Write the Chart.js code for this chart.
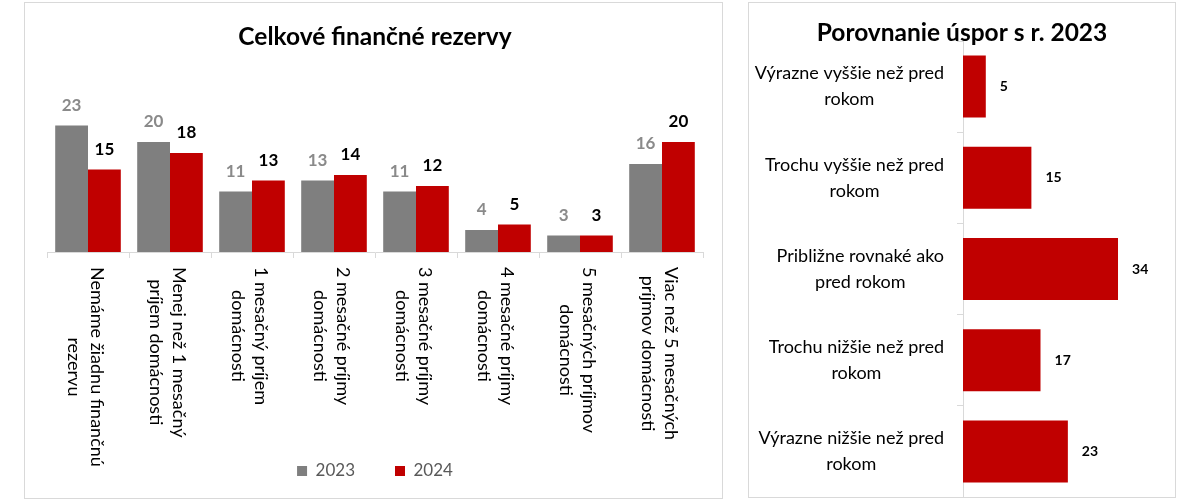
<!DOCTYPE html>
<html>
<head>
<meta charset="utf-8">
<title>Finančné rezervy</title>
<script src="https://cdn.jsdelivr.net/npm/chart.js@4.4.0/dist/chart.umd.min.js"></script>
<style>
  html, body { margin: 0; padding: 0; background: #fff; }
  body { width: 1200px; height: 500px; position: relative; overflow: hidden; }
  .panel { position: absolute; border: 1px solid #d9d9d9; box-sizing: border-box; }
  #left { left: 24px; top: 2px; width: 699px; height: 497px; }
  #right { left: 748px; top: 2px; width: 428px; height: 496px; }
  canvas { display: block; }
</style>
</head>
<body>
<div class="panel" id="left"><canvas id="reserves" width="697" height="495"></canvas></div>
<div class="panel" id="right"><canvas id="savings" width="426" height="494"></canvas></div>
<script>
// left chart data
const reserveCategories = [
    ["Nemáme žiadnu finančnú", "rezervu"],
    ["Menej než 1 mesačný", "príjem domácnosti"],
    ["1 mesačný príjem", "domácnosti"],
    ["2 mesačné príjmy", "domácnosti"],
    ["3 mesačné príjmy", "domácnosti"],
    ["4 mesačné príjmy", "domácnosti"],
    ["5 mesačných príjmov", "domácnosti"],
    ["Viac než 5 mesačných", "príjmov domácnosti"],
];
const reserves2023 = [23, 20, 11, 13, 11, 4, 3, 16];
const reserves2024 = [15, 18, 13, 14, 12, 5, 3, 20];

// right chart data
const savingsCategories = [
    ["Výrazne vyššie než pred", "rokom"],
    ["Trochu vyššie než pred", "rokom"],
    ["Približne rovnaké ako", "pred rokom"],
    ["Trochu nižšie než pred", "rokom"],
    ["Výrazne nižšie než pred", "rokom"],
];
const savingsShares = [5, 15, 34, 17, 23];

const GRAY = "#7f7f7f";
const RED = "#c00000";
const LINE = "#d9d9d9";
const FONT = "Lato, 'Open Sans', sans-serif";

// value labels above the columns, gray for 2023 and black for 2024
const columnValues = {
    id: "columnValues",
    afterDatasetsDraw(chart) {
        const { ctx } = chart;
        ctx.save();
        ctx.font = `bold 17px ${FONT}`;
        ctx.textAlign = "center";
        ctx.textBaseline = "middle";
        chart.data.datasets.forEach((ds, di) => {
            ctx.fillStyle = di === 0 ? "#8a8a8a" : "#000";
            chart.getDatasetMeta(di).data.forEach((bar, i) => {
                ctx.fillText(ds.data[i], bar.x, bar.y - 20);
            });
        });
        ctx.restore();
    },
};

// category labels turned 90 degrees clockwise, lines centred on each other
const verticalCategoryLabels = {
    id: "verticalCategoryLabels",
    afterDraw(chart) {
        const { ctx } = chart;
        const xScale = chart.scales.x;
        ctx.save();
        ctx.font = `18px ${FONT}`;
        ctx.fillStyle = "#000";
        ctx.textAlign = "center";
        ctx.textBaseline = "middle";
        chart.data.labels.forEach((lines, i) => {
            const cx = xScale.getPixelForValue(i) - 3;
            const widest = Math.max(...lines.map((l) => ctx.measureText(l).width));
            ctx.save();
            ctx.translate(cx, xScale.top + 15);
            ctx.rotate(Math.PI / 2);
            lines.forEach((line, j) => {
                ctx.fillText(line, widest / 2, (j - (lines.length - 1) / 2) * 23);
            });
            ctx.restore();
        });
        ctx.restore();
    },
};

new Chart(document.getElementById("reserves"), {
    type: "bar",
    data: {
        labels: reserveCategories,
        datasets: [
            { label: "2023", data: reserves2023, backgroundColor: GRAY },
            { label: "2024", data: reserves2024, backgroundColor: RED },
        ],
    },
    options: {
        responsive: false,
        animation: false,
        layout: { padding: { left: 22, right: 19, top: 0, bottom: 8.5 } },
        datasets: { bar: { categoryPercentage: 0.8, barPercentage: 1, borderWidth: 0 } },
        plugins: {
            title: {
                display: true,
                text: "Celkové finančné rezervy",
                color: "#000",
                font: { family: FONT, size: 24.5, weight: "bold" },
                padding: { top: 19.3, bottom: 35.3 },
            },
            legend: {
                position: "bottom",
                labels: {
                    color: "#595959",
                    font: { family: FONT, size: 17 },
                    boxWidth: 10,
                    boxHeight: 10,
                    padding: 40,
                },
            },
            tooltip: { enabled: false },
        },
        scales: {
            x: {
                grid: { offset: true, drawOnChartArea: false, tickLength: 6, color: LINE },
                border: { color: LINE },
                ticks: { display: false },
                afterFit: (scale) => {
                    scale.height = 170.5;
                },
            },
            y: { display: false, min: 0, max: 30 },
        },
    },
    plugins: [columnValues, verticalCategoryLabels],
});

// value labels right of the horizontal bars
const barValues = {
    id: "barValues",
    afterDatasetsDraw(chart) {
        const { ctx } = chart;
        ctx.save();
        ctx.font = `bold 14px ${FONT}`;
        ctx.fillStyle = "#000";
        ctx.textAlign = "left";
        ctx.textBaseline = "middle";
        chart.getDatasetMeta(0).data.forEach((bar, i) => {
            ctx.fillText(chart.data.datasets[0].data[i], bar.x + 14, bar.y);
        });
        ctx.restore();
    },
};

// row labels: block aligned to the axis, lines centred inside the block
const wrappedRowLabels = {
    id: "wrappedRowLabels",
    afterDraw(chart) {
        const { ctx } = chart;
        const yScale = chart.scales.y;
        ctx.save();
        ctx.font = `18px ${FONT}`;
        ctx.fillStyle = "#000";
        ctx.textAlign = "center";
        ctx.textBaseline = "middle";
        chart.data.labels.forEach((lines, i) => {
            const cy = yScale.getPixelForValue(i);
            const widest = Math.max(...lines.map((l) => ctx.measureText(l).width));
            const cx = yScale.right - 19 - widest / 2;
            lines.forEach((line, j) => {
                ctx.fillText(line, cx, cy + (j - (lines.length - 1) / 2) * 26);
            });
        });
        ctx.restore();
    },
};

new Chart(document.getElementById("savings"), {
    type: "bar",
    data: {
        labels: savingsCategories,
        datasets: [{ label: "2024", data: savingsShares, backgroundColor: RED }],
    },
    options: {
        indexAxis: "y",
        responsive: false,
        animation: false,
        layout: { padding: 0 },
        datasets: { bar: { categoryPercentage: 0.68, barPercentage: 1, borderWidth: 0 } },
        plugins: {
            title: {
                display: true,
                text: "Porovnanie úspor s r. 2023",
                color: "#000",
                font: { family: FONT, size: 24.5, weight: "bold" },
                padding: { top: 15.3, bottom: -6.7 },
            },
            legend: { display: false },
            tooltip: { enabled: false },
        },
        scales: {
            x: { display: false, min: 0, max: 46.5 },
            y: {
                grid: { offset: true, drawOnChartArea: false, tickLength: 6, color: LINE },
                border: { color: LINE },
                ticks: { display: false },
                afterFit: (scale) => {
                    scale.width = 214;
                },
            },
        },
    },
    plugins: [barValues, wrappedRowLabels],
});
</script>
</body>
</html>
